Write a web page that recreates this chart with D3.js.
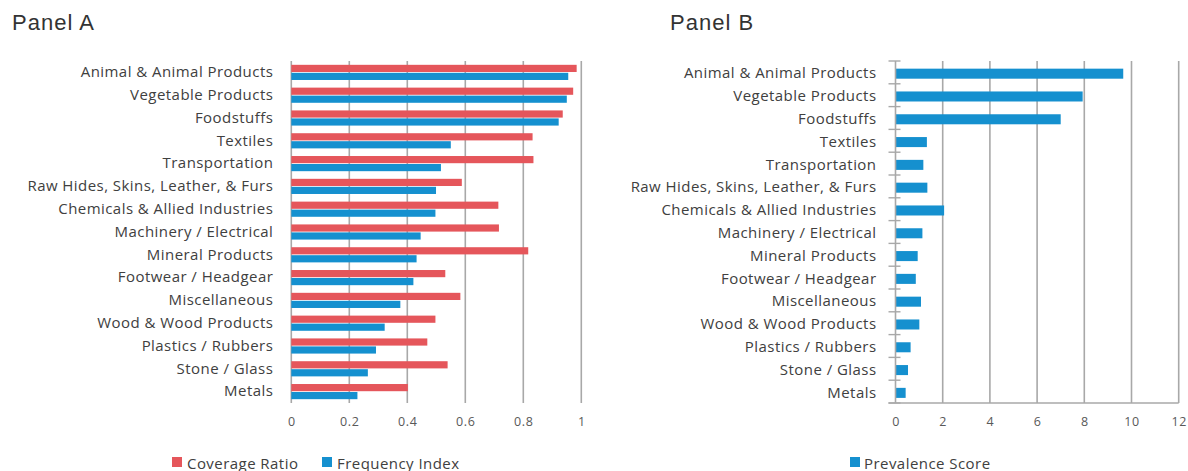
<!DOCTYPE html>
<html><head><meta charset="utf-8">
<script src="https://cdn.jsdelivr.net/npm/d3@7"></script>
<style>body{margin:0;background:#fff}svg{display:block}</style>
</head><body>
<svg id="chart" width="1188" height="471"></svg>
<script>
const categories = ["Animal & Animal Products","Vegetable Products","Foodstuffs","Textiles","Transportation","Raw Hides, Skins, Leather, & Furs","Chemicals & Allied Industries","Machinery / Electrical","Mineral Products","Footwear / Headgear","Miscellaneous","Wood & Wood Products","Plastics / Rubbers","Stone / Glass","Metals"];
const coverageRatio = [0.984,0.972,0.936,0.832,0.835,0.588,0.714,0.716,0.817,0.531,0.583,0.497,0.469,0.539,0.402];
const frequencyIndex = [0.955,0.950,0.922,0.550,0.516,0.499,0.497,0.446,0.432,0.421,0.376,0.322,0.292,0.264,0.228];
const prevalenceScore = [9.65,7.93,7.00,1.33,1.18,1.35,2.06,1.14,0.94,0.86,1.08,1.01,0.64,0.53,0.43];
const ticksA = [0,0.2,0.4,0.6,0.8,1];
const ticksB = [0,2,4,6,8,10,12];
const seriesA = ["Coverage Ratio","Frequency Index"];
const seriesB = ["Prevalence Score"];

const RED = "#e5565b", BLUE = "#1590cf", GRID = "#a8a8a8";
const LABEL = "#404040", TICK = "#595959";
const FONT = "'Open Sans', 'DejaVu Sans', sans-serif";
const LBL_SIZE = 15, LBL_LS = 0.45;
const svg = d3.select("#chart");

const yTop = 61, yBot = 403;

// Titles
[["Panel A",12],["Panel B",670]].forEach(([t,x])=>{
  svg.append("text").attr("x",x).attr("y",30).text(t)
    .attr("font-family","'Liberation Sans', Arial, sans-serif").attr("font-size",22)
    .attr("letter-spacing",1).attr("fill","#333");
});

// ---------- Panel A ----------
const xA = d3.scaleLinear().domain([0,1]).range([291.3,581.3]);
const yA = d3.scaleBand().domain(categories).range([yTop,yBot]).paddingInner(0.3).paddingOuter(0.15);
const subA = d3.scaleBand().domain(seriesA).range([0,yA.bandwidth()]).padding(0);
const gA = svg.append("g");

gA.selectAll("line.grid").data(ticksA).join("line")
  .attr("x1",d=>xA(d)).attr("x2",d=>xA(d)).attr("y1",yTop).attr("y2",yBot)
  .attr("stroke",GRID).attr("stroke-width",1.6);

const dataA = categories.map((c,i)=>({c, vals:[coverageRatio[i], frequencyIndex[i]]}));
const colorA = d3.scaleOrdinal().domain(seriesA).range([RED,BLUE]);
dataA.forEach(d=>{
  seriesA.forEach((s,j)=>{
    gA.append("rect").attr("x",xA(0)).attr("y",yA(d.c)+subA(s)+0.4)
      .attr("width",xA(d.vals[j])-xA(0)).attr("height",subA.bandwidth()-0.8)
      .attr("fill",colorA(s));
  });
});

const axA = d3.axisBottom(xA).tickValues(ticksA).tickSize(0).tickPadding(0).tickFormat(d3.format("~g"));
const axAg = gA.append("g").attr("transform",`translate(0,${yBot+23})`).call(axA);
axAg.select(".domain").remove();
axAg.selectAll("text").attr("font-family",FONT).attr("font-size",12.5).attr("letter-spacing",0.6).attr("fill",TICK).attr("dy","0");

const yAxA = d3.axisLeft(yA).tickSize(0).tickPadding(18);
const yAg = gA.append("g").attr("transform",`translate(${xA(0)},0)`).call(yAxA);
yAg.select(".domain").remove();
yAg.selectAll("text").attr("font-family",FONT).attr("font-size",LBL_SIZE).attr("letter-spacing",LBL_LS).attr("fill",LABEL);

// Legend A
const legA = svg.append("g");
const legAx = [172, 322];
seriesA.forEach((s,i)=>{
  legA.append("rect").attr("x",legAx[i]).attr("y",457).attr("width",10).attr("height",10).attr("fill",colorA(s));
  legA.append("text").attr("x",legAx[i]+15).attr("y",468.5).text(s)
    .attr("font-family",FONT).attr("font-size",LBL_SIZE).attr("letter-spacing",LBL_LS).attr("fill",LABEL);
});

// ---------- Panel B ----------
const xB = d3.scaleLinear().domain([0,12]).range([895.5,1178.7]);
const yB = d3.scaleBand().domain(categories).range([yTop,yBot]).paddingInner(0.56).paddingOuter(0.28).align(0.6);
const gB = svg.append("g");

gB.selectAll("line.grid").data(ticksB.filter(d=>d>0)).join("line")
  .attr("x1",d=>xB(d)).attr("x2",d=>xB(d)).attr("y1",yTop).attr("y2",yBot)
  .attr("stroke",GRID).attr("stroke-width",1.6);

gB.selectAll("rect.bar").data(categories).join("rect")
  .attr("x",xB(0)).attr("y",c=>yB(c)).attr("width",(c,i)=>xB(prevalenceScore[i])-xB(0))
  .attr("height",yB.bandwidth()).attr("fill",BLUE);

const bounds = d3.range(categories.length+1).map(i=>yTop + i*(yBot-yTop)/categories.length);
gB.append("line").attr("x1",xB(0)).attr("x2",xB(0)).attr("y1",yTop).attr("y2",yBot)
  .attr("stroke",GRID).attr("stroke-width",1.6);
gB.selectAll("line.tk").data(bounds).join("line")
  .attr("x1",xB(0)-7).attr("x2",xB(0)+5).attr("y1",d=>d).attr("y2",d=>d)
  .attr("stroke",GRID).attr("stroke-width",1.4);
gB.append("line").attr("x1",xB(0)-7).attr("x2",xB(12)).attr("y1",yBot).attr("y2",yBot)
  .attr("stroke",GRID).attr("stroke-width",1.6);

const axB = d3.axisBottom(xB).tickValues(ticksB).tickSize(0).tickPadding(0).tickFormat(d3.format("~g"));
const axBg = gB.append("g").attr("transform",`translate(0,${yBot+23})`).call(axB);
axBg.select(".domain").remove();
axBg.selectAll("text").attr("font-family",FONT).attr("font-size",12.5).attr("letter-spacing",0.6).attr("fill",TICK).attr("dy","0");

const yAxB = d3.axisLeft(yB).tickSize(0).tickPadding(19);
const yBg = gB.append("g").attr("transform",`translate(${xB(0)},0)`).call(yAxB);
yBg.select(".domain").remove();
yBg.selectAll("text").attr("font-family",FONT).attr("font-size",LBL_SIZE).attr("letter-spacing",LBL_LS).attr("fill",LABEL);

// Legend B
seriesB.forEach((s,i)=>{
  svg.append("rect").attr("x",850).attr("y",457).attr("width",10).attr("height",10).attr("fill",BLUE);
  svg.append("text").attr("x",864).attr("y",468.5).text(s)
    .attr("font-family",FONT).attr("font-size",LBL_SIZE).attr("letter-spacing",LBL_LS).attr("fill",LABEL);
});
</script>
</body></html>
